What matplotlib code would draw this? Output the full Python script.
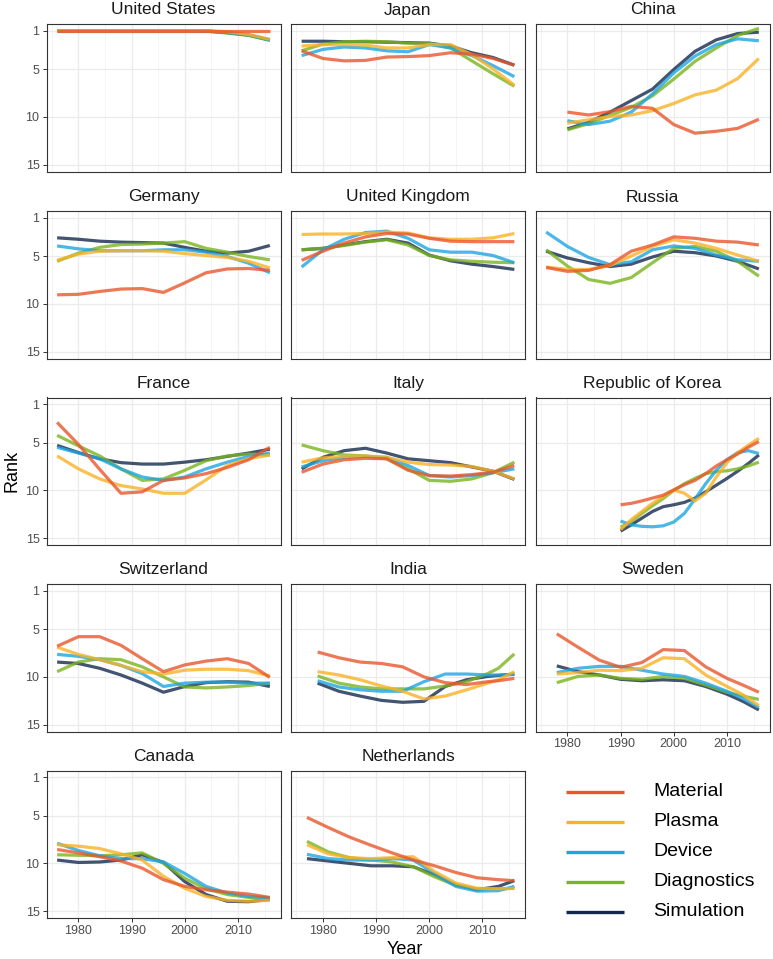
import matplotlib
matplotlib.use("Agg")
import matplotlib.pyplot as plt

plt.rcParams['font.family'] = ['Liberation Sans', 'DejaVu Sans']

# ---------------- data (smoothed rank trends) ----------------
series = ["Material", "Plasma", "Device", "Diagnostics", "Simulation"]
colors = {"Material": "#E9562B", "Plasma": "#F9B225", "Device": "#1DA5E0",
          "Diagnostics": "#7AB41E", "Simulation": "#14294D"}

years_std = [1976, 1980, 1984, 1988, 1992, 1996, 2000, 2004, 2008, 2012, 2016]

united_states = {
    "years": years_std,
    "Material":    [1.0, 1.0, 1.0, 1.0, 1.0, 1.0, 1.0, 1.0, 1.0, 1.0, 1.0],
    "Plasma":      [1.0, 1.0, 1.0, 1.0, 1.0, 1.0, 1.0, 1.0, 1.1, 1.4, 1.9],
    "Device":      [1.0, 1.0, 1.0, 1.0, 1.0, 1.0, 1.0, 1.05, 1.2, 1.45, 2.0],
    "Diagnostics": [1.0, 1.0, 1.0, 1.0, 1.0, 1.0, 1.0, 1.05, 1.25, 1.5, 2.0],
    "Simulation":  [1.0, 1.0, 1.0, 1.0, 1.0, 1.0, 1.0, 1.0, 1.2, 1.45, 1.95],
}
japan = {
    "years": years_std,
    "Material":    [3.1, 3.9, 4.15, 4.1, 3.75, 3.7, 3.6, 3.3, 3.45, 3.9, 4.6],
    "Plasma":      [2.6, 2.45, 2.45, 2.5, 2.8, 2.8, 2.45, 2.45, 3.5, 5.0, 6.7],
    "Device":      [3.6, 2.95, 2.7, 2.8, 3.1, 3.2, 2.45, 2.8, 3.6, 4.65, 5.8],
    "Diagnostics": [3.1, 2.4, 2.15, 2.1, 2.15, 2.3, 2.3, 2.8, 4.15, 5.5, 6.8],
    "Simulation":  [2.1, 2.1, 2.15, 2.15, 2.2, 2.25, 2.3, 2.6, 3.3, 3.8, 4.6],
}
china = {
    "years": [1980, 1984, 1988, 1992, 1996, 2000, 2004, 2008, 2012, 2016],
    "Material":    [9.5, 9.8, 9.45, 8.9, 9.1, 10.8, 11.7, 11.5, 11.2, 10.25],
    "Plasma":      [10.65, 10.3, 9.95, 9.8, 9.35, 8.6, 7.7, 7.2, 6.0, 3.9],
    "Device":      [10.4, 10.8, 10.45, 9.5, 7.6, 5.4, 3.65, 2.45, 1.85, 2.05],
    "Diagnostics": [11.35, 10.7, 9.85, 9.0, 7.8, 6.05, 4.2, 2.8, 1.5, 0.75],
    "Simulation":  [11.25, 10.55, 9.5, 8.3, 7.1, 5.05, 3.15, 1.95, 1.3, 1.15],
}
germany = {
    "years": years_std,
    "Material":    [9.05, 9.0, 8.7, 8.45, 8.4, 8.8, 7.8, 6.75, 6.35, 6.3, 6.5],
    "Plasma":      [5.45, 4.8, 4.5, 4.45, 4.45, 4.5, 4.75, 4.95, 5.15, 5.55, 6.25],
    "Device":      [3.95, 4.25, 4.45, 4.45, 4.45, 4.35, 4.35, 4.6, 5.05, 5.75, 6.75],
    "Diagnostics": [5.55, 4.7, 4.1, 3.8, 3.75, 3.65, 3.5, 4.2, 4.6, 5.05, 5.4],
    "Simulation":  [3.1, 3.25, 3.45, 3.55, 3.6, 3.65, 4.1, 4.5, 4.7, 4.5, 3.9],
}
united_kingdom = {
    "years": years_std,
    "Material":    [5.45, 4.5, 3.65, 3.0, 2.65, 2.7, 3.15, 3.45, 3.5, 3.5, 3.5],
    "Plasma":      [2.75, 2.7, 2.7, 2.65, 2.5, 2.6, 3.1, 3.25, 3.25, 3.1, 2.65],
    "Device":      [6.15, 4.35, 3.25, 2.55, 2.4, 3.15, 4.35, 4.6, 4.6, 4.95, 5.7],
    "Diagnostics": [4.35, 4.2, 3.9, 3.55, 3.3, 3.85, 4.95, 5.4, 5.55, 5.65, 5.7],
    "Simulation":  [4.35, 4.2, 3.85, 3.5, 3.25, 3.65, 4.9, 5.5, 5.85, 6.1, 6.4],
}
russia = {
    "years": years_std,
    "Material":    [6.2, 6.6, 6.5, 5.9, 4.5, 3.85, 3.0, 3.15, 3.45, 3.55, 3.85],
    "Plasma":      [6.15, 6.4, 6.4, 6.0, 5.0, 4.0, 3.3, 3.65, 4.2, 4.9, 5.55],
    "Device":      [2.5, 4.0, 5.15, 5.9, 5.6, 4.35, 3.95, 4.2, 4.9, 5.4, 5.55],
    "Diagnostics": [4.35, 6.05, 7.45, 7.85, 7.25, 5.7, 4.2, 4.0, 4.5, 5.55, 7.1],
    "Simulation":  [4.5, 5.2, 5.7, 6.1, 5.85, 5.1, 4.5, 4.65, 5.0, 5.55, 6.35],
}
france = {
    "years": years_std,
    "Material":    [2.9, 5.2, 7.8, 10.3, 10.15, 8.95, 8.7, 8.25, 7.6, 6.8, 5.5],
    "Plasma":      [6.4, 7.75, 8.8, 9.5, 9.85, 10.3, 10.3, 8.9, 7.4, 6.7, 6.3],
    "Device":      [5.5, 6.1, 6.7, 7.75, 8.6, 8.95, 8.6, 7.75, 7.05, 6.45, 6.1],
    "Diagnostics": [4.25, 5.35, 6.4, 7.75, 8.95, 8.8, 7.9, 6.9, 6.4, 6.2, 6.3],
    "Simulation":  [5.3, 6.05, 6.7, 7.1, 7.25, 7.25, 7.05, 6.8, 6.45, 6.1, 5.7],
}
italy = {
    "years": years_std,
    "Material":    [8.1, 7.25, 6.8, 6.65, 6.7, 7.9, 8.45, 8.5, 8.35, 8.1, 7.4],
    "Plasma":      [7.05, 6.6, 6.45, 6.4, 6.55, 7.05, 7.3, 7.35, 7.5, 8.0, 8.8],
    "Device":      [7.55, 6.9, 6.55, 6.45, 6.55, 7.4, 8.45, 8.6, 8.45, 8.15, 7.75],
    "Diagnostics": [5.25, 5.85, 6.3, 6.4, 6.7, 7.75, 8.95, 9.05, 8.8, 8.15, 7.05],
    "Simulation":  [7.75, 6.55, 5.85, 5.6, 6.1, 6.7, 6.9, 7.1, 7.55, 8.0, 8.85],
}
republic_of_korea = {
    "years": [1990, 1992, 1994, 1996, 1998, 2000, 2002, 2004, 2006, 2008, 2010, 2012, 2014, 2016],
    "Material":    [11.5, 11.35, 11.1, 10.8, 10.5, 9.95, 9.4, 8.95, 8.25, 7.45, 6.8, 6.2, 5.5, 4.9],
    "Plasma":      [14.1, 13.05, 12.2, 11.35, 10.65, 9.95, 10.3, 11.1, 10.3, 8.6, 7.1, 6.05, 5.3, 4.55],
    "Device":      [13.2, 13.6, 13.75, 13.8, 13.7, 13.3, 12.4, 10.9, 9.3, 7.9, 6.8, 6.05, 5.85, 6.15],
    "Diagnostics": [13.85, 13.25, 12.4, 11.6, 10.85, 10.0, 9.3, 8.75, 8.25, 8.05, 7.95, 7.75, 7.45, 7.05],
    "Simulation":  [14.25, 13.6, 12.9, 12.2, 11.7, 11.5, 11.25, 10.8, 10.15, 9.45, 8.75, 8.0, 7.2, 6.3],
}
switzerland = {
    "years": years_std,
    "Material":    [6.8, 5.8, 5.8, 6.7, 8.1, 9.45, 8.75, 8.35, 8.1, 8.6, 10.05],
    "Plasma":      [6.9, 7.65, 8.2, 8.8, 9.45, 9.7, 9.3, 9.2, 9.2, 9.35, 9.9],
    "Device":      [7.65, 7.85, 8.2, 8.8, 9.65, 11.0, 10.65, 10.55, 10.55, 10.65, 10.65],
    "Diagnostics": [9.45, 8.45, 8.1, 8.2, 8.95, 10.0, 11.05, 11.15, 11.05, 10.9, 10.65],
    "Simulation":  [8.45, 8.6, 9.1, 9.8, 10.65, 11.6, 11.0, 10.6, 10.5, 10.55, 11.0],
}
india = {
    "years": [1979, 1983, 1987, 1991, 1995, 1999, 2003, 2007, 2011, 2013, 2016],
    "Material":    [7.4, 8.0, 8.45, 8.6, 8.95, 10.0, 10.6, 10.8, 10.5, 10.4, 10.15],
    "Plasma":      [9.45, 9.8, 10.3, 10.95, 11.5, 12.3, 12.0, 11.35, 10.65, 10.3, 9.45],
    "Device":      [10.4, 11.05, 11.35, 11.5, 11.5, 10.5, 9.7, 9.7, 9.8, 9.8, 9.75],
    "Diagnostics": [9.9, 10.65, 11.05, 11.25, 11.25, 11.25, 10.95, 10.5, 9.65, 9.1, 7.6],
    "Simulation":  [10.65, 11.5, 12.0, 12.45, 12.65, 12.55, 11.0, 10.3, 9.95, 9.85, 9.7],
}
sweden = {
    "years": [1978, 1982, 1986, 1990, 1994, 1998, 2002, 2006, 2010, 2013, 2016],
    "Material":    [5.5, 6.9, 8.25, 9.0, 8.5, 7.15, 7.25, 8.95, 10.15, 10.85, 11.6],
    "Plasma":      [9.7, 9.55, 9.3, 9.35, 9.1, 8.0, 8.1, 9.8, 11.0, 11.85, 13.0],
    "Device":      [9.55, 9.1, 8.9, 8.9, 9.3, 9.7, 9.95, 10.65, 11.5, 12.25, 13.2],
    "Diagnostics": [10.6, 9.95, 9.8, 10.15, 10.25, 9.95, 10.15, 10.85, 11.6, 12.0, 12.35],
    "Simulation":  [8.85, 9.45, 9.8, 10.25, 10.4, 10.3, 10.4, 11.0, 11.8, 12.55, 13.45],
}
canada = {
    "years": years_std,
    "Material":    [8.55, 8.9, 9.3, 9.75, 10.5, 11.7, 12.4, 12.75, 13.0, 13.2, 13.55],
    "Plasma":      [8.05, 8.2, 8.45, 9.0, 9.65, 11.35, 12.6, 13.45, 13.85, 13.95, 13.85],
    "Device":      [7.9, 8.65, 9.2, 9.5, 9.5, 9.85, 11.05, 12.4, 13.1, 13.45, 13.6],
    "Diagnostics": [9.1, 9.15, 9.2, 9.1, 8.9, 10.0, 11.55, 12.65, 13.25, 13.55, 13.6],
    "Simulation":  [9.65, 9.9, 9.85, 9.65, 9.1, 9.9, 11.9, 13.25, 13.95, 14.0, 13.75],
}
netherlands = {
    "years": [1977, 1981, 1985, 1989, 1993, 1997, 2001, 2005, 2009, 2013, 2016],
    "Material":    [5.2, 6.25, 7.25, 8.1, 8.9, 9.65, 10.25, 10.95, 11.5, 11.7, 11.8],
    "Plasma":      [8.05, 9.0, 9.4, 9.5, 9.4, 9.3, 10.85, 12.05, 12.6, 12.65, 12.6],
    "Device":      [9.05, 9.5, 9.65, 9.65, 9.5, 9.65, 11.05, 12.4, 12.9, 12.85, 12.4],
    "Diagnostics": [7.7, 8.8, 9.4, 9.65, 9.85, 10.35, 11.4, 12.3, 12.65, 12.65, 12.6],
    "Simulation":  [9.5, 9.75, 10.0, 10.25, 10.25, 10.35, 11.2, 12.25, 12.75, 12.4, 11.8],
}

countries = ["United States", "Japan", "China", "Germany", "United Kingdom", "Russia",
             "France", "Italy", "Republic of Korea", "Switzerland", "India", "Sweden",
             "Canada", "Netherlands"]
country_data = [united_states, japan, china, germany, united_kingdom, russia,
                france, italy, republic_of_korea, switzerland, india, sweden,
                canada, netherlands]

x_ticks = [1980, 1990, 2000, 2010]
x_minor = [1975, 1985, 1995, 2005, 2015]
y_ticks = [1, 5, 10, 15]

# ---------------- layout ----------------
W, H = 773, 959
fig = plt.figure(figsize=(W / 100, H / 100), dpi=100)
col_left = [46.5, 291.0, 535.5]
row_top = [24.0, 211.0, 397.5, 584.0, 770.5]
pw, ph = 234.0, 147.5

bottom_of_col = {0: 4, 1: 4, 2: 3}

for i, (name, d) in enumerate(zip(countries, country_data)):
    r, c = divmod(i, 3)
    ax = fig.add_axes([col_left[c] / W, 1 - (row_top[r] + ph) / H, pw / W, ph / H])
    ax.set_xlim(1974, 2018)
    ax.set_ylim(15.7, 0.3)
    ax.set_xticks(x_ticks)
    ax.set_xticks(x_minor, minor=True)
    ax.set_yticks(y_ticks)
    ax.grid(True, which='major', color='#EBEBEB', lw=0.9, zorder=0)
    ax.grid(True, which='minor', axis='x', color='#F2F2F2', lw=0.6, zorder=0)
    ax.set_axisbelow(True)
    for sp in ax.spines.values():
        sp.set_color('#333333')
        sp.set_linewidth(0.8)
    ax.tick_params(which='minor', length=0)
    ax.tick_params(which='major', length=3, width=0.7, color='#333333',
                   labelsize=9, labelcolor='#4D4D4D', pad=2)
    if c != 0:
        ax.tick_params(axis='y', which='major', length=0, labelleft=False)
    if r != bottom_of_col[c]:
        ax.tick_params(axis='x', which='major', length=0, labelbottom=False)
    for s in reversed(series):
        ax.plot(d["years"], d[s], color=colors[s], lw=2.3, alpha=0.8,
                solid_capstyle='butt', zorder=3)
    fig.text((col_left[c] + pw / 2) / W, 1 - (row_top[r] - 14) / H, name,
             ha='center', va='center', fontsize=12.5, color='#1A1A1A')

# axis titles
fig.text(12 / W, 1 - 471 / H, "Rank", rotation=90, ha='center', va='center',
         fontsize=13, color='black')
fig.text(405 / W, 1 - 950 / H, "Year", ha='center', va='center',
         fontsize=13, color='black')

# legend
lax = fig.add_axes([0, 0, 1, 1])
lax.set_xlim(0, W)
lax.set_ylim(H, 0)
lax.axis('off')
leg_y = [792, 822, 852, 882, 912]
for s, yy in zip(series, leg_y):
    lax.plot([566, 624], [yy, yy], color=colors[s], lw=2.4, solid_capstyle='butt')
    lax.text(653, yy, s, ha='left', va='center', fontsize=14, color='black')

fig.savefig("out.png", dpi=100)
